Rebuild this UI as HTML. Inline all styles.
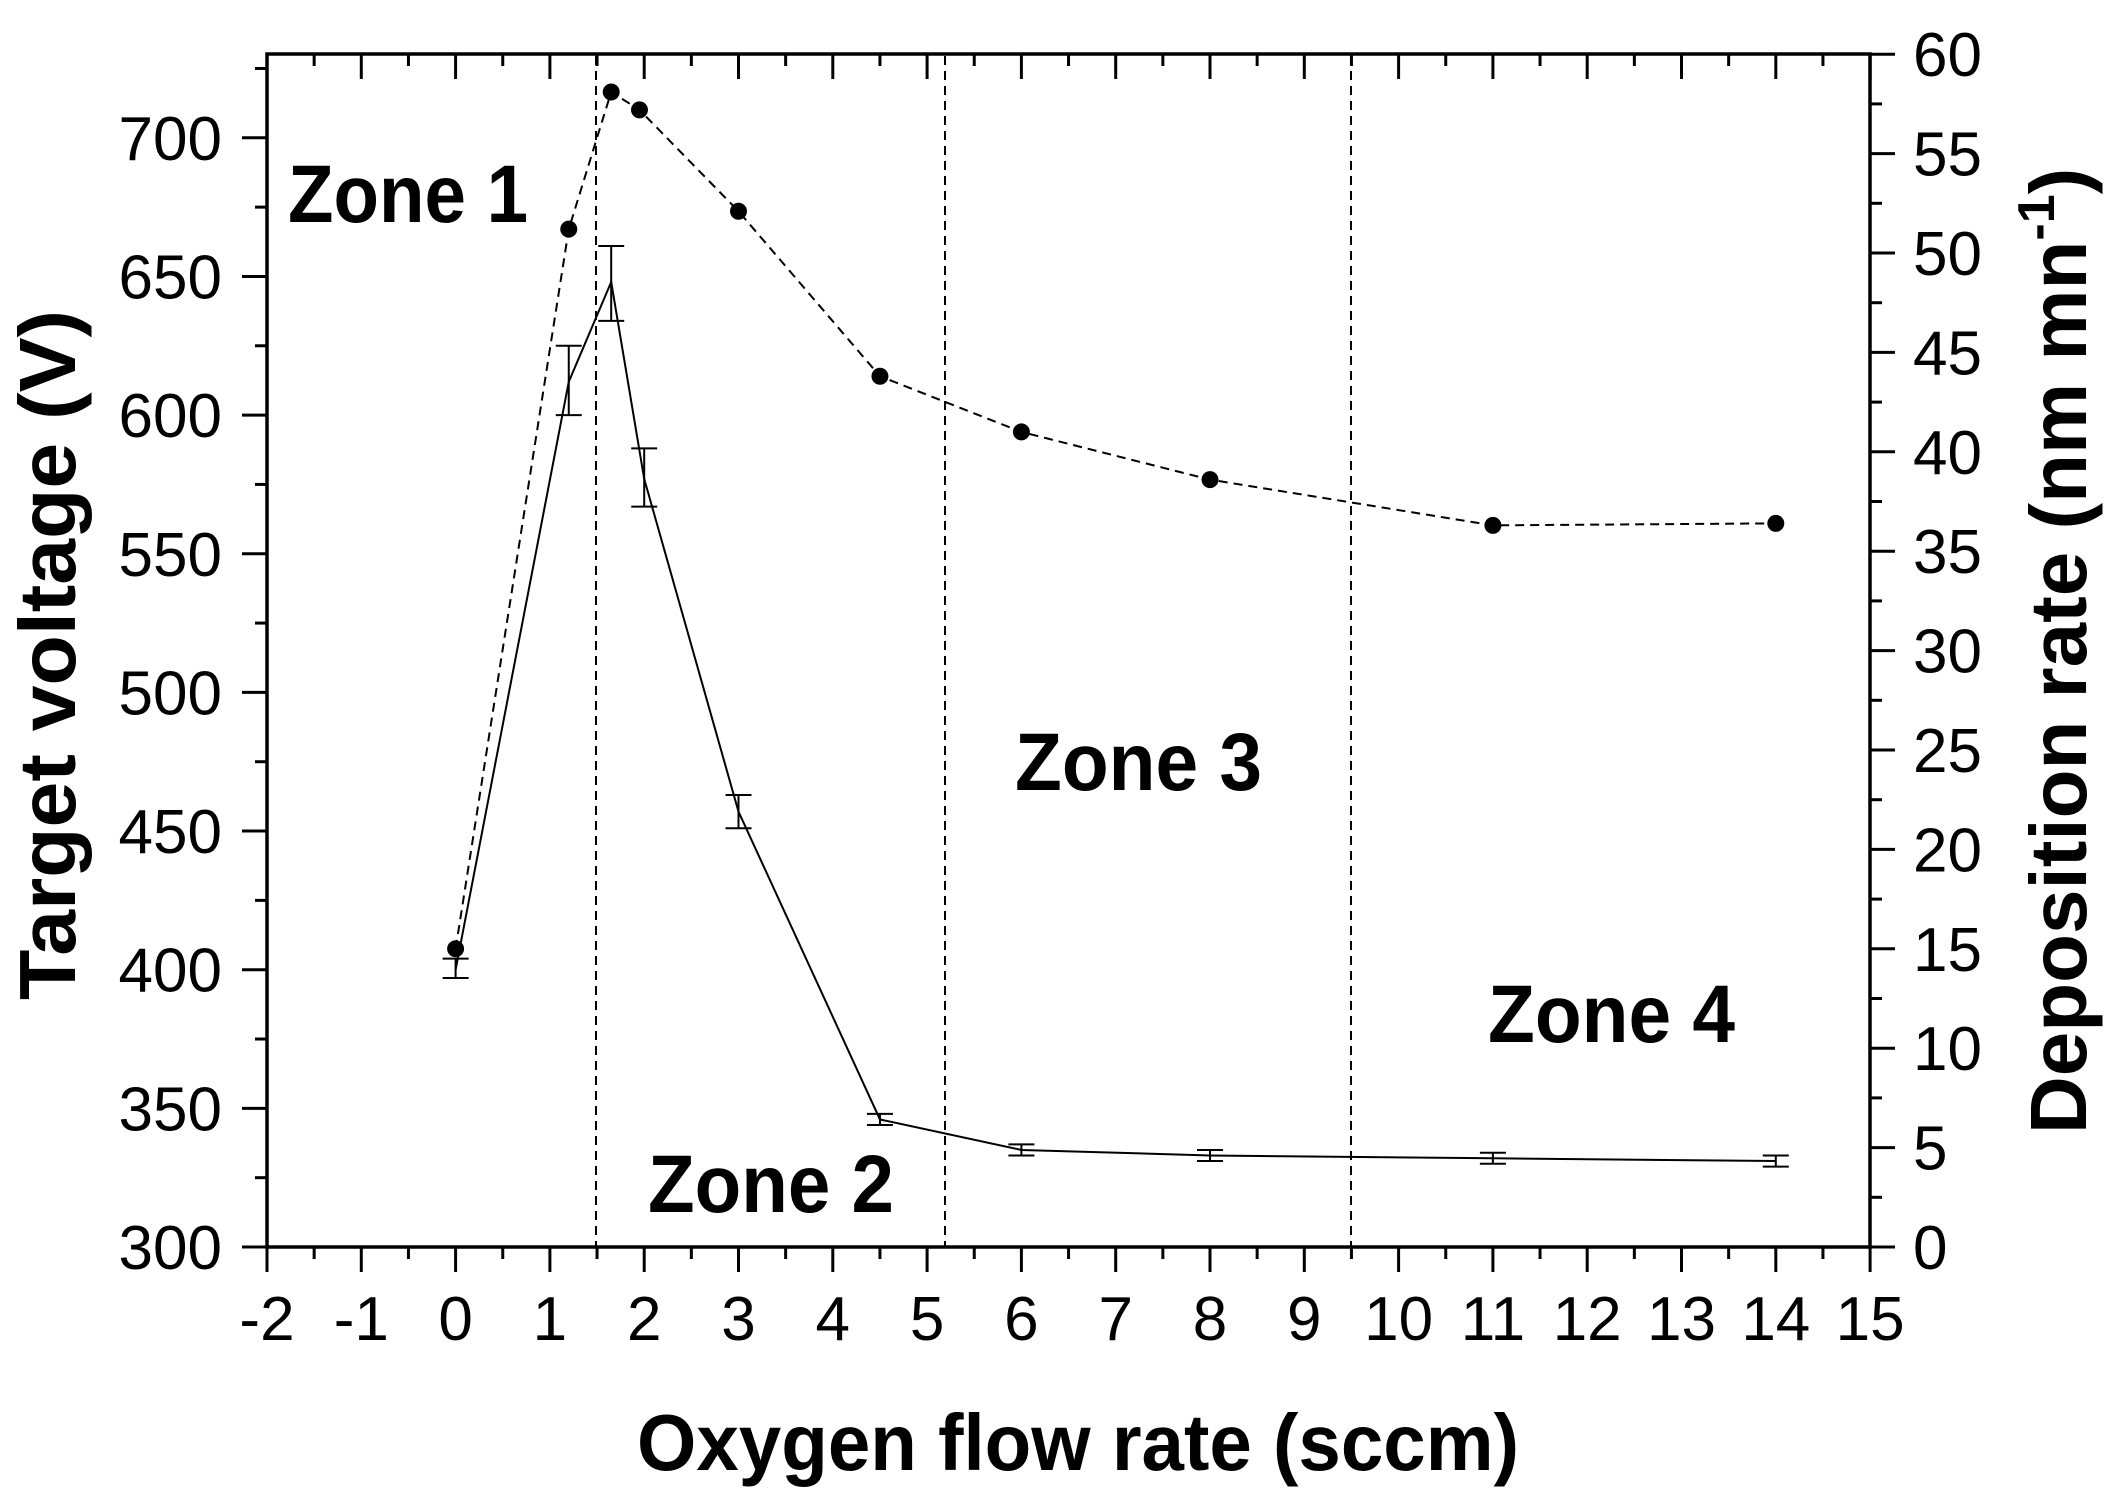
<!DOCTYPE html>
<html><head><meta charset="utf-8"><style>
html,body{margin:0;padding:0;background:#fff;}
svg{display:block;font-family:"Liberation Sans",Arial,sans-serif;}
</style></head><body>
<svg width="2118" height="1506" viewBox="0 0 2118 1506" xmlns="http://www.w3.org/2000/svg">
<rect width="2118" height="1506" fill="#fff"/>
<g id="ticks" stroke="#000" stroke-width="3" fill="none"></g>
<rect x="267" y="54" width="1603" height="1193" fill="none" stroke="#000" stroke-width="3.5"/>
<g id="vlines" stroke="#000" stroke-width="2" stroke-dasharray="9,6" fill="none">
<line x1="596" y1="56" x2="596" y2="1247"/>
<line x1="945" y1="56" x2="945" y2="1247"/>
<line x1="1351" y1="56" x2="1351" y2="1247"/>
</g>
<g id="data"></g>
<g id="labels" font-size="62" fill="#000"></g>
<g font-weight="bold" font-size="82" fill="#000">
<text x="288" y="222" textLength="240" lengthAdjust="spacingAndGlyphs">Zone 1</text>
<text x="648" y="1212" textLength="246" lengthAdjust="spacingAndGlyphs">Zone 2</text>
<text x="1015" y="790" textLength="247" lengthAdjust="spacingAndGlyphs">Zone 3</text>
<text x="1488" y="1042" textLength="247" lengthAdjust="spacingAndGlyphs">Zone 4</text>
</g>
<g font-weight="bold" font-size="80" fill="#000">
<text x="637" y="1470" textLength="882" lengthAdjust="spacingAndGlyphs">Oxygen flow rate (sccm)</text>
<text transform="translate(75,1000) rotate(-90)" textLength="690" lengthAdjust="spacingAndGlyphs">Target voltage (V)</text>
<text transform="translate(2086,1134) rotate(-90)">Deposition rate (nm mn<tspan font-size="52" dy="-32">-1</tspan><tspan dy="32">)</tspan></text>
</g>
</svg>
<script>
const NS="http://www.w3.org/2000/svg";
const X=x=>267+(x+2)*94.3, YL=v=>1247-(v-300)*2.773, YR=d=>1247-d*19.88;
function el(p,t,a,txt){const e=document.createElementNS(NS,t);for(const k in a)e.setAttribute(k,a[k]);if(txt!==undefined)e.textContent=txt;p.appendChild(e);return e;}
const tk=document.getElementById('ticks'),lb=document.getElementById('labels'),dt=document.getElementById('data');
for(let i=-4;i<=30;i++){const x=X(i/2),maj=i%2==0;const L=maj?25:12;
 el(tk,'line',{x1:x,y1:1247,x2:x,y2:1247+L});
 el(tk,'line',{x1:x,y1:54,x2:x,y2:54+L});
 if(maj) el(lb,'text',{x:x,y:1340,'text-anchor':'middle'},String(i/2));}
for(let v=300;v<=725;v+=25){const y=YL(v),maj=v%50==0;el(tk,'line',{x1:267,y1:y,x2:267-(maj?25:12),y2:y});
 if(maj) el(lb,'text',{x:222,y:y+22,'text-anchor':'end'},String(v));}
for(let d=0;d<=60;d+=2.5){const y=YR(d),maj=d%5==0;el(tk,'line',{x1:1870,y1:y,x2:1870+(maj?25:12),y2:y});
 if(maj) el(lb,'text',{x:1913,y:y+22},String(d));}
const V=[[0,400,397,404],[1.2,612,600,625],[1.65,648,634,661],[2,577,567,588],[3,457,451,463],[4.5,346,344,348],[6,335,333,337],[8,333,331,335],[11,332,330,334],[14,331,329,333]];
el(dt,'polyline',{points:V.map(p=>X(p[0])+','+YL(p[1])).join(' '),fill:'none',stroke:'#000','stroke-width':2});
V.forEach(p=>{const x=X(p[0]);el(dt,'path',{d:`M${x-13},${YL(p[2])}H${x+13}M${x-13},${YL(p[3])}H${x+13}M${x},${YL(p[2])}V${YL(p[3])}`,stroke:'#000','stroke-width':2,fill:'none'});});
const D=[[0,15.0],[1.2,51.2],[1.65,58.1],[1.95,57.2],[3,52.1],[4.5,43.8],[6,41.0],[8,38.6],[11,36.3],[14,36.4]];
el(dt,'polyline',{points:D.map(p=>X(p[0])+','+YR(p[1])).join(' '),fill:'none',stroke:'#000','stroke-width':2,'stroke-dasharray':'9,6'});
D.forEach(p=>el(dt,'circle',{cx:X(p[0]),cy:YR(p[1]),r:8.5,fill:'#000'}));
</script>
</body></html>
